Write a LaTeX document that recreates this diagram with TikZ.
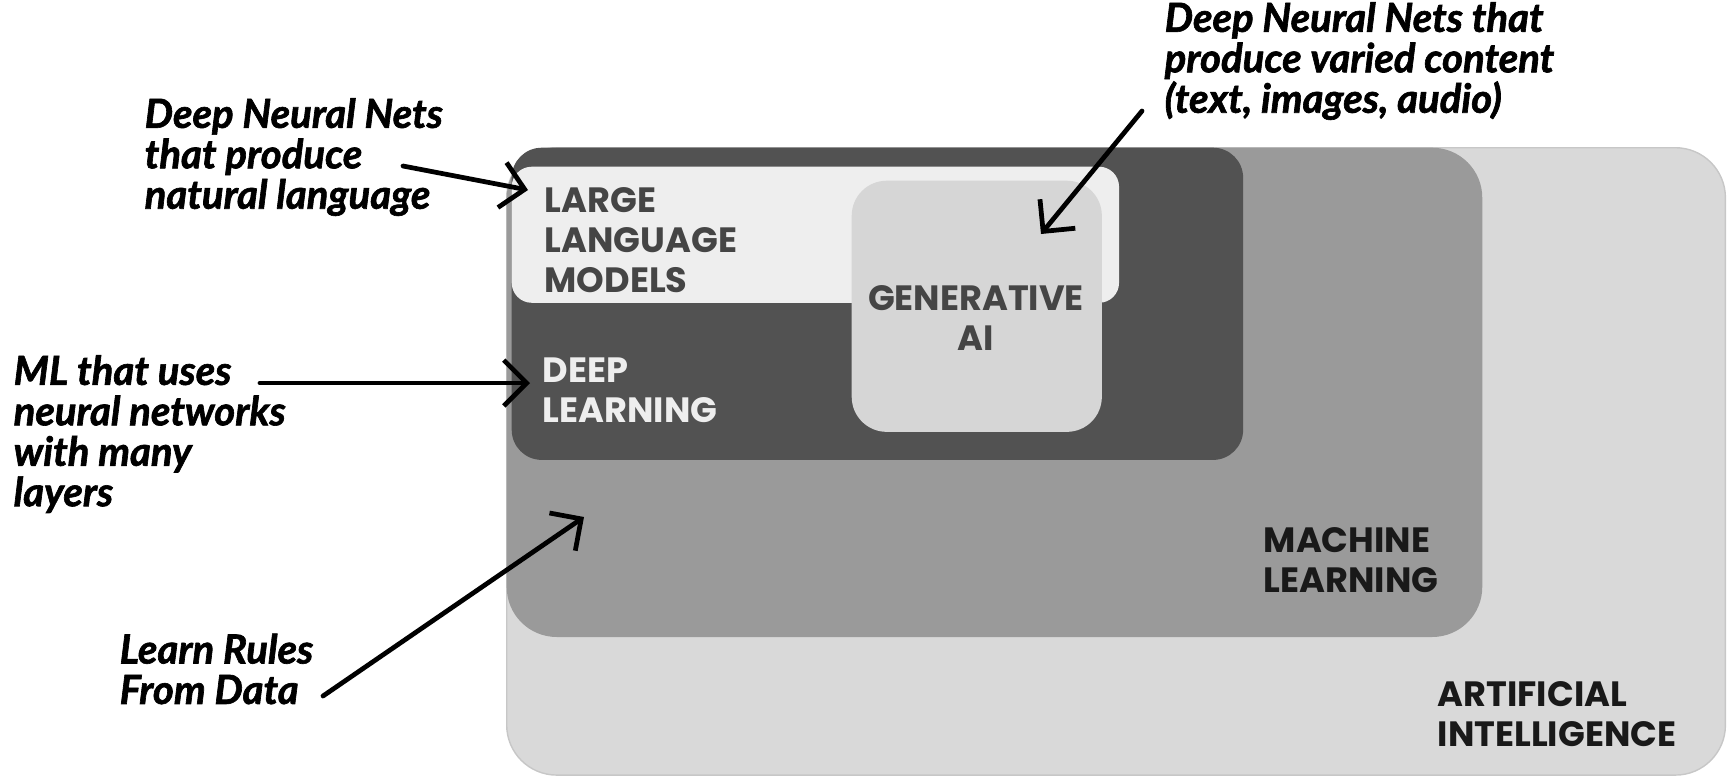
\documentclass[tikz,border=0pt]{standalone}
\usepackage{fontspec}
\setmainfont{Poppins}
\newfontfamily\notefont{Lato}[BoldItalicFeatures={FakeBold=1.6}]
\usetikzlibrary{arrows.meta}

\definecolor{aifill}{HTML}{D9D9D9}
\definecolor{mlfill}{HTML}{9A9A9A}
\definecolor{dlfill}{HTML}{525252}
\definecolor{llmfill}{HTML}{EEEEEE}
\definecolor{genfill}{HTML}{D6D6D6}
\definecolor{darktext}{HTML}{454545}

\begin{document}
\begin{tikzpicture}[
        x=0.01cm, y=-0.01cm,
        box/.style={rectangle, anchor=north west, inner sep=0pt},
        boxtext/.style={align=left, anchor=west, inner sep=0pt, font=\fontsize{10}{11.4}\selectfont\bfseries},
        note/.style={align=left, anchor=west, inner sep=0pt, font=\notefont\fontsize{11.4}{11.5}\selectfont\bfseries\itshape},
        pointer/.style={-{Straight Barb[length=6.5pt,width=13pt]}, line width=1.35pt, line cap=round, line join=round}
    ]
    \useasboundingbox (0,0) rectangle (1733,781);

    % Nested boxes, outermost first
    \node[box, fill=aifill, draw=black!22, line width=0.4pt, rounded corners=0.5cm,
          minimum width=12.18cm, minimum height=6.27cm] (aibox) at (506,147) {};
    \node[box, fill=mlfill, rounded corners=0.5cm,
          minimum width=9.75cm, minimum height=4.89cm] (mlbox) at (506,147) {};
    \node[box, fill=dlfill, rounded corners=0.3cm,
          minimum width=7.31cm, minimum height=3.12cm] (dlbox) at (511,147) {};
    \node[box, fill=llmfill, rounded corners=0.2cm,
          minimum width=6.07cm, minimum height=1.36cm] (llmbox) at (511,166) {};
    \node[box, fill=genfill, rounded corners=0.35cm,
          minimum width=2.50cm, minimum height=2.51cm] (genbox) at (851,180) {};

    % Box titles
    \node[boxtext, text=darktext] (llm) at (544,240) {LARGE\\LANGUAGE\\MODELS};
    \node[boxtext, text=llmfill] (dl) at (542,390) {DEEP\\LEARNING};
    \node[boxtext, text=darktext, align=center, anchor=center] (gen) at (976,318) {GENERATIVE\\AI};
    \node[boxtext, text=black!90] (ml) at (1263,560) {MACHINE\\LEARNING};
    \node[boxtext, text=black!90] (ai) at (1437,714) {ARTIFICIAL\\INTELLIGENCE};

    % Side notes
    \node[note] (nllm) at (144,157) {Deep Neural Nets\\that produce\\natural language};
    \node[note] (ngen) at (1164,61) {Deep Neural Nets that\\produce varied content\\(text, images, audio)};
    \node[note] (ndl) at (13,434) {ML that uses\\neural networks\\with many\\layers};
    \node[note] (nml) at (119,669) {Learn Rules\\From Data};

    % Arrow ends
    \coordinate (s1) at (403,166);
    \coordinate (t1) at (528,190);
    \coordinate (s2) at (1142,111);
    \coordinate (t2) at (1041,234);
    \coordinate (s3) at (260,383);
    \coordinate (t3) at (530,383);
    \coordinate (s4) at (323,696);
    \coordinate (t4) at (584,517);

    \draw[pointer] (s1) -- (t1);
    \draw[pointer] (s2) -- (t2);
    \draw[pointer] (s3) -- (t3);
    \draw[pointer] (s4) -- (t4);

\end{tikzpicture}
\end{document}
